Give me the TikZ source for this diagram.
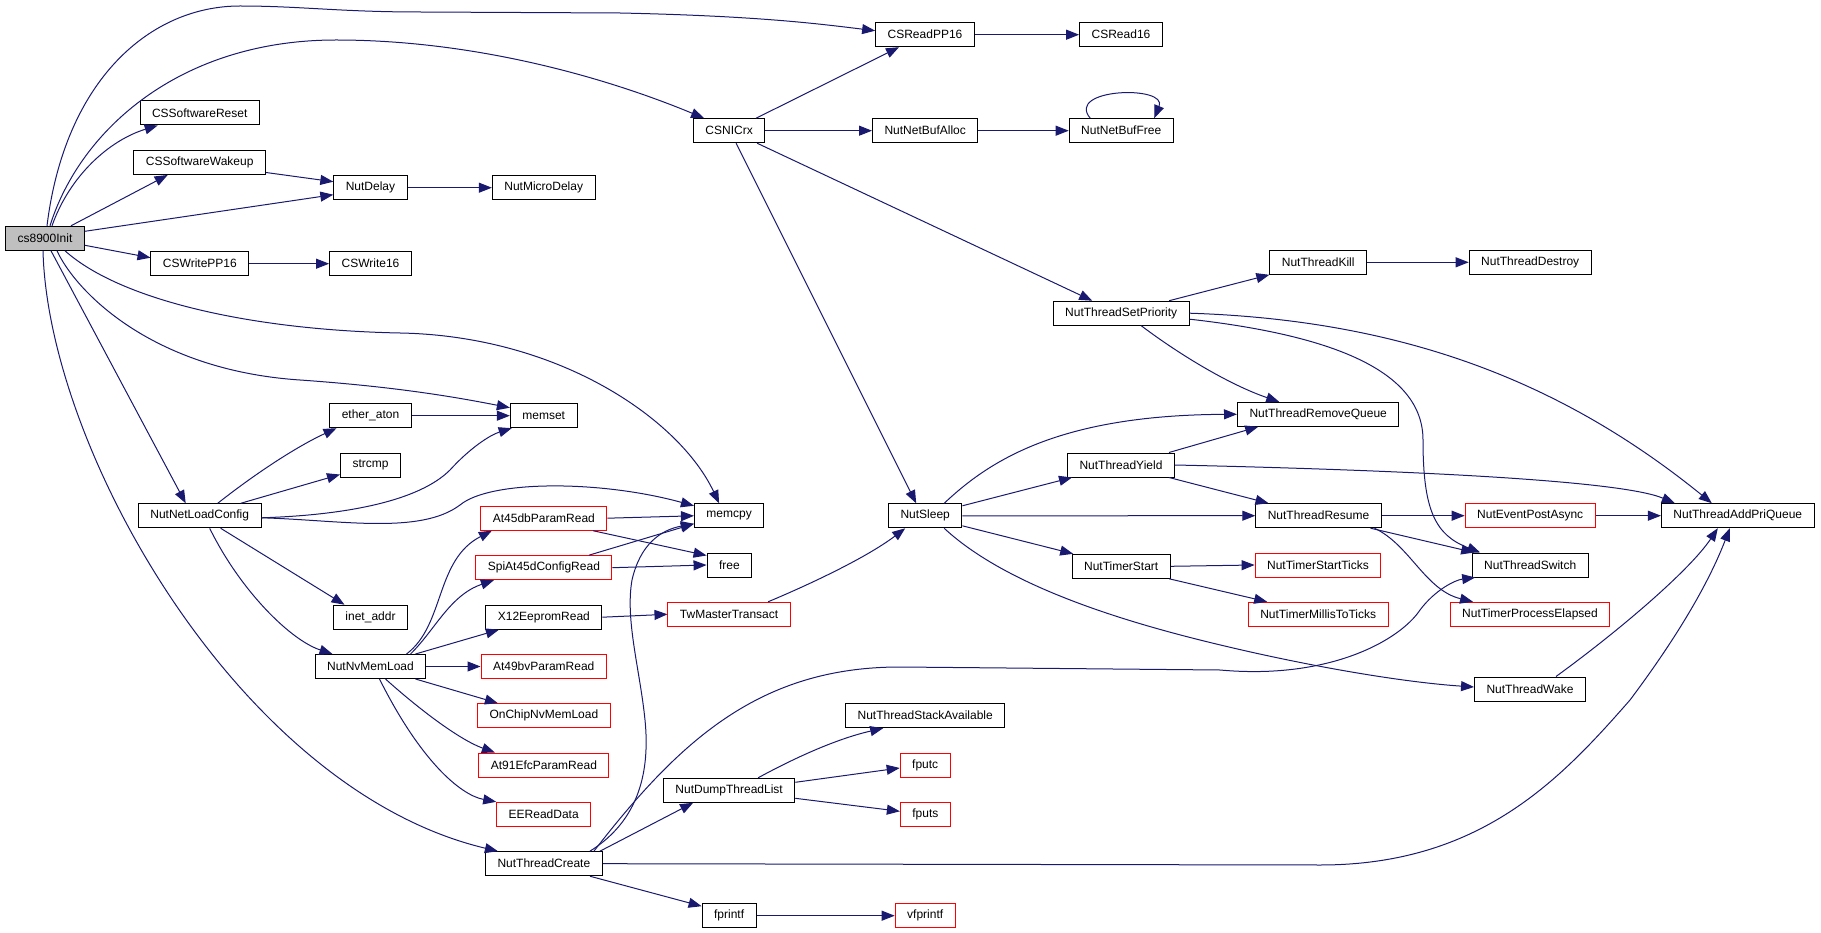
\documentclass[tikz,border=0pt]{standalone}
\usepackage{fontspec}
\setmainfont{Liberation Sans}
\usetikzlibrary{arrows.meta}
\definecolor{cazul}{HTML}{191970}
\definecolor{crojo}{HTML}{FF0000}
\definecolor{cgris}{HTML}{BFBFBF}
\tikzset{
  caja/.style={rectangle, draw=#1, fill=white, line width=1pt, inner xsep=12pt, inner ysep=0pt,
               minimum height=24pt, font=\fontsize{12pt}{14pt}\selectfont},
  caja/.default=black,
  raiz/.style={caja, fill=cgris},
  flecha/.style={-{Triangle[length=13pt,width=10pt]}, line width=1pt, draw=cazul},
}
\begin{document}
\begin{tikzpicture}[x=1pt, y=-1pt]
        \useasboundingbox (0,0) rectangle (1821,933);
        \node[raiz] (init) at (45,238.3) {cs8900Init};
        \node[caja] (swreset) at (199.7,113) {CSSoftwareReset};
        \node[caja] (swake) at (199.7,162.5) {CSSoftwareWakeup};
        \node[caja] (wpp) at (199.9,263.7) {CSWritePP16};
        \node[caja] (netload) at (199.7,515.8) {NutNetLoadConfig};
        \node[caja] (delay) at (370.5,187.7) {NutDelay};
        \node[caja] (w16) at (370.5,263.7) {CSWrite16};
        \node[caja] (ether) at (370.5,415.7) {ether\_aton};
        \node[caja] (strcmp) at (370.5,465) {strcmp};
        \node[caja] (inet) at (370.5,617.2) {inet\_addr};
        \node[caja] (nvload) at (370.5,666.5) {NutNvMemLoad};
        \node[caja] (udelay) at (543.7,187.7) {NutMicroDelay};
        \node[caja] (memset) at (543.7,415.7) {memset};
        \node[caja=crojo] (at45) at (543.9,518.2) {At45dbParamRead};
        \node[caja=crojo] (spi) at (543.9,567.7) {SpiAt45dConfigRead};
        \node[caja] (x12) at (543.9,617.2) {X12EepromRead};
        \node[caja=crojo] (at49) at (543.7,666.5) {At49bvParamRead};
        \node[caja=crojo] (onchip) at (543.9,715.7) {OnChipNvMemLoad};
        \node[caja=crojo] (at91) at (543.9,765) {At91EfcParamRead};
        \node[caja=crojo] (eeread) at (543.7,814.3) {EEReadData};
        \node[caja] (create) at (543.9,863.7) {NutThreadCreate};
        \node[caja] (nic) at (729.1,130.7) {CSNICrx};
        \node[caja] (memcpy) at (729.1,515.8) {memcpy};
        \node[caja] (free) at (729.4,565) {free};
        \node[caja=crojo] (tw) at (729.1,614.3) {TwMasterTransact};
        \node[caja] (dump) at (729.1,790.3) {NutDumpThreadList};
        \node[caja] (fprintf) at (729.1,915.7) {fprintf};
        \node[caja] (rpp) at (925,34.7) {CSReadPP16};
        \node[caja] (bufalloc) at (925.2,130.7) {NutNetBufAlloc};
        \node[caja] (sleep) at (925.2,515.8) {NutSleep};
        \node[caja] (stack) at (925.2,715.7) {NutThreadStackAvailable};
        \node[caja=crojo] (fputc) at (925.2,765) {fputc};
        \node[caja=crojo] (fputs) at (925.4,814.3) {fputs};
        \node[caja=crojo] (vfprintf) at (925.2,915.7) {vfprintf};
        \node[caja] (r16) at (1121,34.7) {CSRead16};
        \node[caja] (buffree) at (1121.2,130.7) {NutNetBufFree};
        \node[caja] (setprio) at (1121.2,313.2) {NutThreadSetPriority};
        \node[caja] (yield) at (1121,465) {NutThreadYield};
        \node[caja] (tstart) at (1121.2,566.3) {NutTimerStart};
        \node[caja] (kill) at (1318.2,262.3) {NutThreadKill};
        \node[caja] (remq) at (1318.2,414.3) {NutThreadRemoveQueue};
        \node[caja] (resume) at (1318.5,515.7) {NutThreadResume};
        \node[caja=crojo] (ticks) at (1318,565) {NutTimerStartTicks};
        \node[caja=crojo] (millis) at (1318.2,614.3) {NutTimerMillisToTicks};
        \node[caja] (destroy) at (1530.2,262.3) {NutThreadDestroy};
        \node[caja=crojo] (event) at (1530.2,515.7) {NutEventPostAsync};
        \node[caja] (switch) at (1530.2,565) {NutThreadSwitch};
        \node[caja=crojo] (elapsed) at (1530,614.3) {NutTimerProcessElapsed};
        \node[caja] (twake) at (1530,689) {NutThreadWake};
        \node[caja] (addpri) at (1737.8,515.7) {NutThreadAddPriQueue};
        \draw[flecha] ([xshift=2pt]init.north) .. controls (65,80) and (150,6) .. (240,6) .. controls (300,6) and (340,12) .. (420,12) -- (620,13) .. controls (760,16) and (820,24) .. ([yshift=4pt]rpp.west);
        \draw[flecha] ([xshift=5pt]init.north) .. controls (80,130) and (180,40) .. (336,40) .. controls (470,40) and (600,75) .. ([xshift=-25pt]nic.north);
        \draw[flecha] ([xshift=7pt]init.north) .. controls (70,175) and (110,140) .. ([xshift=-42pt]swreset.south);
        \draw[flecha] ([xshift=26pt]init.north) -- ([xshift=-32pt]swake.south);
        \draw[flecha] ([yshift=7pt]init.east) -- ([yshift=-7pt]delay.west);
        \draw[flecha] ([yshift=-7pt]init.east) -- ([yshift=6pt]wpp.west);
        \draw[flecha] ([xshift=20pt]init.south) .. controls (120,300) and (250,330) .. (400,333) .. controls (560,336) and (680,420) .. ([xshift=-10pt]memcpy.north);
        \draw[flecha] ([xshift=12pt]init.south) .. controls (75,290) and (150,370) .. (300,380) .. controls (400,387) and (460,398) .. ([yshift=8pt]memset.west);
        \draw[flecha] ([xshift=6pt]init.south) -- ([xshift=-14pt]netload.north);
        \draw[flecha] ([xshift=-2pt]init.south) .. controls (48,450) and (240,790) .. ([xshift=-46pt]create.north);
        \draw[flecha] ([yshift=-10pt]swake.east) -- ([yshift=6pt]delay.west);
        \draw[flecha] (delay) -- (udelay);
        \draw[flecha] (wpp) -- (w16);
        \draw[flecha] ([xshift=18pt]netload.north) .. controls (260,470) and (300,445) .. ([xshift=-34pt]ether.south);
        \draw[flecha] ([xshift=41pt]netload.north) -- ([yshift=3pt]strcmp.south west);
        \draw[flecha] ([yshift=-2pt]netload.east) .. controls (350,515) and (420,500) .. (450,470) .. controls (470,448) and (490,435) .. ([xshift=-32pt]memset.south);
        \draw[flecha] ([yshift=-2pt]netload.east) .. controls (340,520) and (420,535) .. (460,505) .. controls (490,480) and (600,480) .. ([yshift=10pt]memcpy.west);
        \draw[flecha] ([xshift=21pt]netload.south) -- ([xshift=-26pt]inet.north);
        \draw[flecha] ([xshift=10pt]netload.south) .. controls (240,590) and (290,640) .. ([xshift=-38pt]nvload.north);
        \draw[flecha] (ether) -- (memset);
        \draw[flecha] ([xshift=36pt]nvload.north) .. controls (445,625) and (435,560) .. ([xshift=-52pt]at45.south);
        \draw[flecha] ([xshift=40pt]nvload.north) .. controls (435,630) and (450,595) .. ([xshift=-50pt]spi.south);
        \draw[flecha] ([xshift=45pt]nvload.north) -- ([xshift=-45pt]x12.south);
        \draw[flecha] (nvload) -- (at49);
        \draw[flecha] ([xshift=45pt]nvload.south) -- ([xshift=-46pt]onchip.north);
        \draw[flecha] ([xshift=15pt]nvload.south) .. controls (420,710) and (460,740) .. ([xshift=-49pt]at91.north);
        \draw[flecha] ([xshift=9pt]nvload.south) .. controls (420,760) and (460,795) .. (eeread.north west);
        \draw[flecha] (at45.east) -- (memcpy.west);
        \draw[flecha] ([xshift=49pt]at45.south) -- ([yshift=-3pt]free.north west);
        \draw[flecha] ([xshift=45pt]spi.north) -- ([yshift=-8pt]memcpy.west);
        \draw[flecha] (spi.east) -- (free.west);
        \draw[flecha] (x12.east) -- (tw.west);
        \draw[flecha] ([xshift=39pt]tw.north) .. controls (820,580) and (870,555) .. ([xshift=-20pt]sleep.south);
        \draw[flecha] ([xshift=46pt]create.north) .. controls (640,820) and (650,770) .. (645,720) .. controls (640,670) and (625,620) .. (632,580) .. controls (640,545) and (660,530) .. ([yshift=-8pt]memcpy.west);
        \draw[flecha] ([xshift=50pt]create.north) .. controls (680,740) and (760,667) .. (900,667) -- (1220,670) .. controls (1330,680) and (1400,640) .. (1420,610) .. controls (1435,590) and (1455,580) .. ([xshift=-55pt]switch.south);
        \draw[flecha] ([xshift=56pt]create.north) -- ([xshift=-36pt]dump.south);
        \draw[flecha] (create.east) -- (1320,865) .. controls (1480,865) and (1560,780) .. (1630,700) .. controls (1675,640) and (1708,585) .. ([xshift=-8pt]addpri.south);
        \draw[flecha] ([xshift=46pt]create.south) -- ([yshift=-3pt]fprintf.north west);
        \draw[flecha] (fprintf) -- (vfprintf);
        \draw[flecha] ([xshift=29pt]dump.north) .. controls (800,755) and (840,738) .. ([xshift=-42pt]stack.south);
        \draw[flecha] ([yshift=8pt]dump.east) -- ([yshift=-3pt]fputc.west);
        \draw[flecha] ([yshift=-8pt]dump.east) -- ([yshift=3pt]fputs.west);
        \draw[flecha] ([xshift=27pt]nic.north) -- ([xshift=-26pt]rpp.south);
        \draw[flecha] (rpp) -- (r16);
        \draw[flecha] (nic) -- (bufalloc);
        \draw[flecha] (bufalloc) -- (buffree);
        \draw[flecha] ([xshift=-31pt]buffree.north) .. controls (1065,88) and (1168,85) .. ([xshift=33pt]buffree.north);
        \draw[flecha] ([xshift=28pt]nic.south) -- ([xshift=-29pt]setprio.north);
        \draw[flecha] ([xshift=7pt]nic.south) -- ([xshift=-9pt]sleep.north);
        \draw[flecha] ([xshift=48pt]setprio.north) -- (kill.south west);
        \draw[flecha] (kill) -- (destroy);
        \draw[flecha] (setprio.east) .. controls (1400,320) and (1560,380) .. ([xshift=-26pt]addpri.north);
        \draw[flecha] ([yshift=-6pt]setprio.east) .. controls (1330,335) and (1423,370) .. (1423,440) .. controls (1423,510) and (1435,535) .. ([xshift=-50pt]switch.north);
        \draw[flecha] ([xshift=20pt]setprio.south) .. controls (1180,355) and (1230,385) .. ([xshift=-39pt]remq.north);
        \draw[flecha] ([xshift=19pt]sleep.north) .. controls (990,460) and (1060,415) .. (remq.west);
        \draw[flecha] ([yshift=10pt]sleep.east) -- ([xshift=5pt]yield.south west);
        \draw[flecha] (sleep) -- (resume);
        \draw[flecha] ([yshift=-10pt]sleep.east) -- ([xshift=-48pt]tstart.north);
        \draw[flecha] ([xshift=19pt]sleep.south) .. controls (1000,580) and (1100,615) .. (1200,640) .. controls (1300,665) and (1400,682) .. ([yshift=2pt]twake.west);
        \draw[flecha] ([xshift=48pt]yield.north) -- ([xshift=-60pt]remq.south);
        \draw[flecha] (yield.east) .. controls (1400,470) and (1620,480) .. ([xshift=-63pt]addpri.north);
        \draw[flecha] ([xshift=48pt]yield.south) -- ([xshift=-50pt]resume.north);
        \draw[flecha] (tstart.east) -- (ticks.west);
        \draw[flecha] ([xshift=48pt]tstart.south) -- ([xshift=-51pt]millis.north);
        \draw[flecha] (resume) -- (event);
        \draw[flecha] (event) -- (addpri);
        \draw[flecha] ([xshift=52pt]resume.south) -- ([xshift=-56pt]switch.north);
        \draw[flecha] ([xshift=56pt]resume.south) .. controls (1410,545) and (1425,590) .. ([xshift=-57pt]elapsed.north);
        \draw[flecha] ([xshift=26pt]twake.north) .. controls (1620,630) and (1690,570) .. ([xshift=-20pt]addpri.south);
\end{tikzpicture}
\end{document}
